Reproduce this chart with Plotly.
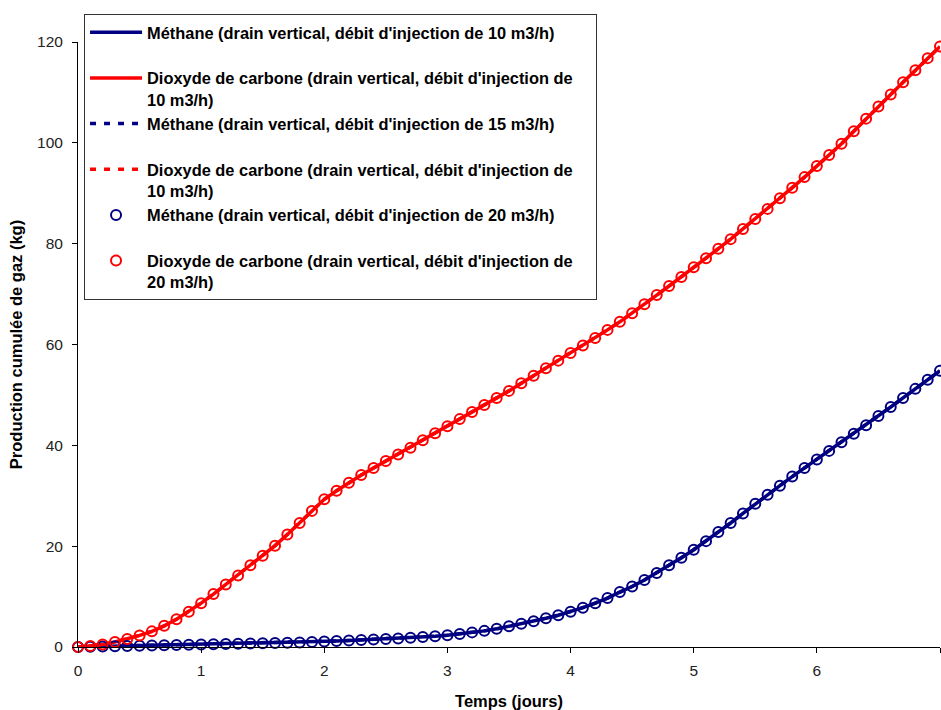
import plotly.graph_objects as go

# Time (days)
temps = [round(i * 0.1, 1) for i in range(71)]

# Cumulative CO2 production (kg)
co2 = [0.0, 0.2, 0.5, 1.0, 1.6, 2.3, 3.1, 4.2, 5.5, 7.0,
       8.7, 10.5, 12.4, 14.2, 16.2, 18.1, 20.1, 22.3, 24.6, 27.0,
       29.3, 31.0, 32.6, 34.1, 35.5, 36.9, 38.2, 39.5, 41.0, 42.4,
       43.8, 45.2, 46.6, 48.0, 49.4, 50.8, 52.3, 53.8, 55.3, 56.8,
       58.3, 59.8, 61.3, 62.9, 64.5, 66.2, 68.0, 69.8, 71.6, 73.4,
       75.3, 77.1, 79.0, 80.9, 82.9, 84.9, 86.9, 89.0, 91.1, 93.2,
       95.4, 97.6, 99.8, 102.3, 104.8, 107.2, 109.6, 112.0, 114.4, 116.8,
       119.1]

# Cumulative methane production (kg)
ch4 = [0.0, 0.05, 0.1, 0.15, 0.2, 0.25, 0.3, 0.35, 0.4, 0.45,
       0.5, 0.55, 0.6, 0.65, 0.7, 0.75, 0.8, 0.85, 0.9, 1.0,
       1.1, 1.2, 1.3, 1.4, 1.5, 1.6, 1.7, 1.85, 2.0, 2.15,
       2.35, 2.6, 2.9, 3.2, 3.6, 4.1, 4.6, 5.1, 5.7, 6.3,
       7.0, 7.8, 8.7, 9.7, 10.9, 12.0, 13.3, 14.7, 16.2, 17.7,
       19.3, 21.0, 22.8, 24.6, 26.5, 28.4, 30.2, 32.0, 33.8, 35.5,
       37.2, 38.9, 40.6, 42.3, 44.0, 45.8, 47.6, 49.4, 51.2, 53.0,
       54.8]

noms = [
    "Méthane (drain vertical, débit d'injection de 10 m3/h)<br> ",
    "Dioxyde de carbone (drain vertical, débit d'injection de<br>10 m3/h)",
    "Méthane (drain vertical, débit d'injection de 15 m3/h)<br> ",
    "Dioxyde de carbone (drain vertical, débit d'injection de<br>10 m3/h)",
    "Méthane (drain vertical, débit d'injection de 20 m3/h)<br> ",
    "Dioxyde de carbone (drain vertical, débit d'injection de<br>20 m3/h)",
]

BLUE = "#000080"
RED = "#FF0000"


def bold(s):
    return "<b>" + s.replace("<br>", "&nbsp;&nbsp;&nbsp;&nbsp;</b><br><b>") + "</b>"


fig = go.Figure()
fig.add_trace(go.Scatter(x=temps, y=ch4, name=bold(noms[0]), mode="lines",
                         line=dict(color=BLUE, width=3.5), cliponaxis=False))
fig.add_trace(go.Scatter(x=temps, y=co2, name=bold(noms[1]), mode="lines",
                         line=dict(color=RED, width=3.5), cliponaxis=False))
fig.add_trace(go.Scatter(x=temps, y=ch4, name=bold(noms[2]), mode="lines",
                         line=dict(color=BLUE, width=3.5, dash="6px,8px"), cliponaxis=False))
fig.add_trace(go.Scatter(x=temps, y=co2, name=bold(noms[3]), mode="lines",
                         line=dict(color=RED, width=3.5, dash="6px,8px"), cliponaxis=False))
fig.add_trace(go.Scatter(x=temps, y=ch4, name=bold(noms[4]), mode="markers",
                         marker=dict(symbol="circle-open", size=10, color=BLUE,
                                     line=dict(width=2, color=BLUE)), cliponaxis=False))
fig.add_trace(go.Scatter(x=temps, y=co2, name=bold(noms[5]), mode="markers",
                         marker=dict(symbol="circle-open", size=10, color=RED,
                                     line=dict(width=2, color=RED)), cliponaxis=False))

axis_common = dict(showgrid=False, zeroline=False, showline=True, linecolor="#000000",
                   linewidth=1, ticks="outside", ticklen=5, tickcolor="#000000",
                   automargin=False,
                   tickfont=dict(family="Liberation Sans, Arial, sans-serif", size=15.5, color="#222222"))

fig.update_layout(
    width=941, height=710,
    paper_bgcolor="white", plot_bgcolor="white",
    margin=dict(l=78, r=1, t=42, b=63, autoexpand=False),
    font=dict(family="Liberation Sans, Arial, sans-serif", color="#000000"),
    xaxis=dict(range=[0, 7], dtick=1, tick0=0, ticklabelstandoff=4,
               title=dict(text="<b>Temps (jours)</b>", font=dict(size=16.5), standoff=18),
               **axis_common),
    yaxis=dict(range=[0, 120], dtick=20, tick0=0, ticklabelstandoff=6,
               title=dict(text="<b>Production cumulée de gaz (kg)</b>", font=dict(size=16.5), standoff=10),
               **axis_common),
    legend=dict(x=0.007, y=1.046, xanchor="left", yanchor="top",
                bgcolor="white", bordercolor="#333333", borderwidth=1,
                font=dict(size=16.4, color="#000000"), valign="top",
                itemwidth=52, tracegroupgap=0),
    showlegend=True,
)

fig.write_html("out.html", config={"displayModeBar": False},
               post_script="document.body.style.margin='0';document.body.style.overflow='hidden';")
